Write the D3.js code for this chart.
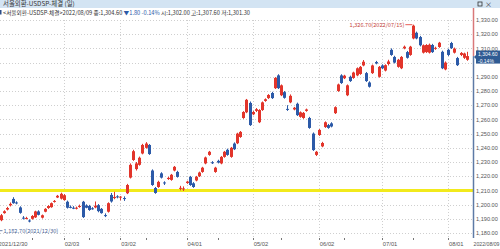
<!DOCTYPE html>
<html>
<head>
<meta charset="utf-8">
<script src="https://cdn.jsdelivr.net/npm/d3@7"></script>
<style>
body { margin: 0; background: #fff; }
svg { display: block; }
text { font-family: "Noto Sans CJK KR", "Liberation Sans", sans-serif; }
text.num { font-family: "Liberation Sans", Arial, sans-serif; }
</style>
</head>
<body>
<div id="chart"></div>
<script>
// chart size
var WD = 500, HT = 249
var plotRight = 473

// trading days
var dates = [
  "2021/12/30",
  "2022/01/03","2022/01/04","2022/01/05","2022/01/06","2022/01/07",
  "2022/01/10","2022/01/11","2022/01/12","2022/01/13","2022/01/14",
  "2022/01/17","2022/01/18","2022/01/19","2022/01/20","2022/01/21",
  "2022/01/24","2022/01/25","2022/01/26","2022/01/27","2022/01/28",
  "2022/02/03","2022/02/04",
  "2022/02/07","2022/02/08","2022/02/09","2022/02/10","2022/02/11",
  "2022/02/14","2022/02/15","2022/02/16","2022/02/17","2022/02/18",
  "2022/02/21","2022/02/22","2022/02/23","2022/02/24","2022/02/25",
  "2022/02/28",
  "2022/03/02","2022/03/03","2022/03/04",
  "2022/03/07","2022/03/08","2022/03/10","2022/03/11",
  "2022/03/14","2022/03/15","2022/03/16","2022/03/17","2022/03/18",
  "2022/03/21","2022/03/22","2022/03/23","2022/03/24","2022/03/25",
  "2022/03/28","2022/03/29","2022/03/30","2022/03/31",
  "2022/04/01",
  "2022/04/04","2022/04/05","2022/04/06","2022/04/07","2022/04/08",
  "2022/04/11","2022/04/12","2022/04/13","2022/04/14","2022/04/15",
  "2022/04/18","2022/04/19","2022/04/20","2022/04/21","2022/04/22",
  "2022/04/25","2022/04/26","2022/04/27","2022/04/28","2022/04/29",
  "2022/05/02","2022/05/03","2022/05/04","2022/05/06",
  "2022/05/09","2022/05/10","2022/05/11","2022/05/12","2022/05/13",
  "2022/05/16","2022/05/17","2022/05/18","2022/05/19","2022/05/20",
  "2022/05/23","2022/05/24","2022/05/25","2022/05/26","2022/05/27",
  "2022/05/30","2022/05/31",
  "2022/06/02","2022/06/03",
  "2022/06/07","2022/06/08","2022/06/09","2022/06/10",
  "2022/06/13","2022/06/14","2022/06/15","2022/06/16","2022/06/17",
  "2022/06/20","2022/06/21","2022/06/22","2022/06/23","2022/06/24",
  "2022/06/27","2022/06/28","2022/06/29","2022/06/30",
  "2022/07/01",
  "2022/07/04","2022/07/05","2022/07/06","2022/07/07","2022/07/08",
  "2022/07/11","2022/07/12","2022/07/13","2022/07/14","2022/07/15",
  "2022/07/18","2022/07/19","2022/07/20","2022/07/21","2022/07/22",
  "2022/07/25","2022/07/26","2022/07/27","2022/07/28","2022/07/29",
  "2022/08/01","2022/08/02","2022/08/03","2022/08/04","2022/08/05",
  "2022/08/08","2022/08/09"
]

var opens = [
  1185.0,1189.0,1194.0,1196.5,1199.5,1204.0,1201.5,1198.0,1190.8,1190.2,
  1188.8,1190.0,1191.0,1195.2,1190.8,1195.0,1197.6,1198.2,1202.0,1205.0,
  1204.2,1203.2,1202.0,1198.4,1197.8,1197.2,1198.6,1202.0,1199.4,1199.0,
  1197.4,1198.0,1199.6,1197.0,1192.6,1195.0,1206.8,1204.6,1205.8,1205.0,
  1204.6,1208.0,1219.0,1231.4,1225.0,1228.0,1236.0,1240.0,1242.0,1224.0,
  1211.7,1212.4,1222.0,1215.6,1218.0,1217.4,1224.0,1223.0,1211.2,1211.0,
  1215.2,1219.5,1215.0,1217.0,1220.0,1223.0,1229.0,1235.0,1229.8,1223.0,
  1230.8,1229.0,1233.6,1238.6,1233.6,1243.0,1243.2,1247.6,1261.0,1265.0,
  1271.6,1263.6,1266.0,1258.0,1266.6,1273.0,1275.0,1278.6,1282.0,1291.0,
  1277.0,1279.2,1267.4,1272.0,1267.0,1271.0,1261.8,1261.0,1266.0,1261.0,
  1250.0,1235.0,1249.0,1241.0,1254.6,1256.0,1257.2,1264.4,1280.0,1291.0,
  1289.0,1277.0,1290.0,1289.2,1291.0,1292.0,1298.0,1292.6,1286.0,1292.6,
  1300.4,1290.0,1298.0,1294.4,1299.0,1309.0,1304.0,1297.0,1296.0,1310.0,
  1307.4,1305.4,1317.0,1321.0,1318.0,1307.0,1307.4,1307.0,1312.4,1309.8,
  1311.0,1307.6,1295.2,1309.0,1313.8,1307.0,1303.2,1305.4,1303.4,1302.0
]
var highs = [
  1190.6,1193.4,1196.0,1198.4,1201.5,1205.2,1202.3,1198.8,1191.9,1191.4,
  1189.6,1192.6,1195.7,1196.0,1193.0,1197.5,1199.6,1201.5,1203.2,1206.8,
  1208.4,1207.4,1202.8,1199.4,1198.9,1198.6,1200.0,1202.6,1200.2,1199.8,
  1198.2,1202.2,1200.4,1197.6,1193.8,1201.6,1208.2,1209.0,1206.6,1206.0,
  1205.8,1214.6,1229.0,1238.6,1230.0,1233.8,1242.8,1244.0,1242.6,1224.8,
  1212.4,1216.8,1222.8,1216.4,1219.6,1221.6,1227.2,1223.8,1213.2,1212.8,
  1216.8,1220.2,1215.8,1220.2,1223.2,1226.6,1233.8,1237.8,1230.6,1226.6,
  1231.6,1234.2,1237.8,1239.4,1240.6,1243.8,1250.6,1251.8,1265.8,1274.4,
  1272.6,1266.0,1268.0,1267.2,1272.6,1274.8,1277.8,1279.4,1289.8,1291.8,
  1284.6,1280.0,1270.0,1277.6,1268.8,1271.8,1265.6,1265.2,1267.6,1261.8,
  1250.8,1237.8,1253.2,1244.2,1258.6,1256.8,1258.0,1269.2,1285.2,1291.8,
  1291.4,1284.6,1290.8,1293.6,1296.6,1297.6,1301.8,1293.4,1286.8,1298.6,
  1301.2,1297.6,1298.8,1298.8,1302.0,1310.0,1304.8,1302.6,1304.6,1312.0,
  1308.2,1311.8,1326.7,1321.8,1318.8,1312.8,1313.0,1313.4,1313.2,1311.2,
  1314.6,1308.4,1300.8,1309.8,1314.6,1310.6,1304.0,1307.4,1307.0,1307.6
]
var lows = [
  1182.7,1188.3,1193.6,1195.9,1198.7,1200.6,1200.2,1193.6,1189.5,1189.6,
  1187.5,1189.4,1190.6,1192.4,1190.2,1194.6,1197.0,1197.8,1201.4,1204.6,
  1203.6,1202.8,1197.2,1197.4,1196.8,1196.6,1197.8,1190.6,1197.4,1195.6,
  1196.4,1197.4,1194.6,1193.6,1191.2,1194.4,1201.4,1203.8,1204.4,1203.0,
  1202.6,1207.4,1218.4,1230.8,1224.0,1227.4,1235.4,1239.4,1235.0,1213.2,
  1207.6,1211.8,1218.4,1213.8,1217.4,1216.8,1223.4,1219.0,1210.0,1209.6,
  1214.6,1213.2,1211.8,1216.4,1219.4,1222.4,1228.4,1234.4,1228.6,1222.4,
  1229.0,1228.4,1233.0,1234.4,1233.0,1238.4,1242.6,1247.0,1260.4,1264.4,
  1255.4,1263.0,1265.2,1257.4,1266.0,1272.4,1274.4,1274.4,1281.4,1281.4,
  1276.4,1274.6,1266.0,1271.4,1266.4,1262.4,1261.2,1260.4,1265.4,1253.4,
  1237.8,1234.2,1248.4,1240.4,1254.0,1253.4,1254.4,1263.8,1279.4,1285.0,
  1288.4,1276.4,1286.4,1288.6,1290.4,1291.4,1297.4,1286.4,1282.4,1292.0,
  1298.8,1289.4,1295.4,1293.8,1298.0,1304.8,1299.4,1296.4,1295.4,1309.4,
  1302.8,1304.8,1316.4,1316.4,1311.4,1306.4,1306.8,1306.4,1306.8,1309.0,
  1310.4,1295.4,1294.6,1304.6,1309.6,1306.4,1297.6,1304.6,1302.6,1301.3
]
var closes = [
  1188.8,1192.5,1195.3,1197.6,1200.5,1201.0,1201.0,1194.2,1190.4,1190.6,
  1188.4,1192.0,1195.2,1192.8,1192.5,1197.0,1199.0,1201.0,1202.6,1206.2,
  1207.6,1206.6,1197.8,1198.0,1197.6,1197.8,1199.0,1191.2,1197.8,1196.2,
  1196.8,1199.2,1195.4,1194.0,1192.0,1201.0,1202.2,1205.4,1205.2,1205.6,
  1204.2,1213.8,1228.0,1237.6,1229.0,1233.0,1242.0,1243.0,1235.6,1213.8,
  1208.2,1216.0,1219.0,1215.0,1218.8,1221.0,1226.6,1219.5,1211.8,1211.4,
  1216.2,1213.8,1212.4,1219.6,1222.6,1226.0,1233.2,1237.2,1229.2,1226.0,
  1229.6,1233.6,1237.2,1235.0,1240.0,1239.0,1250.0,1251.2,1265.2,1273.8,
  1256.0,1265.2,1267.2,1266.6,1272.0,1274.2,1277.2,1275.0,1289.2,1282.0,
  1284.0,1275.2,1266.8,1276.6,1268.2,1263.0,1265.0,1264.6,1267.0,1254.0,
  1238.4,1237.2,1252.6,1243.4,1258.0,1254.0,1255.0,1268.6,1284.6,1285.6,
  1290.8,1284.0,1287.0,1293.0,1296.0,1297.0,1300.6,1287.0,1283.0,1298.0,
  1299.4,1297.0,1296.0,1298.2,1300.8,1305.4,1300.0,1302.0,1304.0,1311.2,
  1303.4,1311.2,1326.0,1317.0,1312.2,1312.2,1312.4,1312.6,1307.4,1310.4,
  1314.0,1296.0,1300.0,1305.4,1310.2,1309.8,1298.2,1306.8,1306.4,1304.6
]

var yTicks = [1180,1190,1200,1210,1220,1230,1240,1250,1260,1270,1280,1290,1300,1310,1320,1330]
var refLevel = 1210
var titleText = "서울외환-USDSP-체결 (일)"
var infoHead = "<서울외환-USDSP-체결>2022/08/09 종:1,304.60 "
var infoChange = "▼1.80  -0.14%"
var infoTail = " 시:1,302.00 고:1,307.60 저:1,301.30"
var lastPct = "-0.14%"

var RED = "#e2352b", BLUE = "#2c5aa8"

var svg = d3.select("#chart").append("svg")
    .attr("width", WD)
    .attr("height", HT)

var x = d3.scaleLinear().domain([0, dates.length - 1]).range([-2.5, 466.9])
var y = d3.scaleLinear().domain([1180, 1330]).range([233, 20])
var fmt = d3.format(",.2f")
var last = closes.length - 1
var ly = y(closes[last])
var tagTop = ly - 5.5, tagBottom = ly + 7.5

//month starts (skip the first january day, label starts at 2021/12/30)
var monthStarts = []
dates.forEach(function(d, i){
    if (i > 1 && d.slice(5,7) != dates[i-1].slice(5,7)) monthStarts.push(i)
})
var midMonth = []
dates.forEach(function(d, i){
    if (i > 0 && +d.slice(8) >= 15 && (+dates[i-1].slice(8) < 15 || d.slice(5,7) != dates[i-1].slice(5,7))) midMonth.push(i)
})

//grid lines
svg.append("g").selectAll("line")
    .data(yTicks)
    .enter().append("line")
      .attr("x1", 0).attr("x2", plotRight)
      .attr("y1", function(d){ return Math.round(y(d)) + 0.5 })
      .attr("y2", function(d){ return Math.round(y(d)) + 0.5 })
      .attr("stroke", "#cfcfcf")
      .attr("stroke-dasharray", "1,2")

svg.append("g").selectAll("line")
    .data(monthStarts)
    .enter().append("line")
      .attr("x1", function(i){ return Math.round(x(i)) + 0.5 })
      .attr("x2", function(i){ return Math.round(x(i)) + 0.5 })
      .attr("y1", 20).attr("y2", 237)
      .attr("stroke", "#cfcfcf")
      .attr("stroke-dasharray", "1,2")

//reference line
svg.append("line")
    .attr("x1", 0).attr("x2", plotRight)
    .attr("y1", y(refLevel)).attr("y2", y(refLevel))
    .attr("stroke", "#f2ea1c")
    .attr("stroke-width", 3)

//candles
var candles = svg.append("g").selectAll("g")
    .data(dates)
    .enter().append("g")

candles.append("line")
    .attr("x1", function(d, i){ return Math.round(x(i)) + 0.5 })
    .attr("x2", function(d, i){ return Math.round(x(i)) + 0.5 })
    .attr("y1", function(d, i){ return y(highs[i]) })
    .attr("y2", function(d, i){ return y(lows[i]) })
    .attr("stroke", function(d, i){ return closes[i] >= opens[i] ? RED : BLUE })
    .attr("stroke-width", 1)

candles.append("rect")
    .attr("x", function(d, i){ return Math.round(x(i)) - 1 })
    .attr("width", 3)
    .attr("y", function(d, i){ return y(Math.max(opens[i], closes[i])) })
    .attr("height", function(d, i){ return Math.max(1, Math.abs(y(opens[i]) - y(closes[i]))) })
    .attr("fill", function(d, i){ return closes[i] >= opens[i] ? RED : BLUE })

//high / low marks
var hi = d3.maxIndex(highs), lo = d3.minIndex(lows)
svg.append("line")
    .attr("x1", x(hi) - 8).attr("x2", x(hi) - 1)
    .attr("y1", y(highs[hi])).attr("y2", y(highs[hi]))
    .attr("stroke", RED).attr("stroke-width", 0.8)
svg.append("text")
    .attr("x", x(hi) - 9).attr("y", y(highs[hi]) + 2)
    .attr("text-anchor", "end")
    .attr("font-size", 5.6)
    .attr("fill", "#c4443a")
    .text(fmt(highs[hi]) + "(" + dates[hi] + ")")

svg.append("line")
    .attr("x1", x(lo) + 1).attr("x2", x(lo) + 5)
    .attr("y1", y(lows[lo]) + 1.5).attr("y2", y(lows[lo]) + 1.5)
    .attr("stroke", "#4a6698").attr("stroke-width", 0.8)
svg.append("text")
    .attr("x", x(lo) + 6).attr("y", y(lows[lo]) + 3.5)
    .attr("font-size", 5.6)
    .attr("fill", "#4a6698")
    .text(fmt(lows[lo]) + "(" + dates[lo] + ")")

//right axis
svg.append("line")
    .attr("x1", plotRight + 0.5).attr("x2", plotRight + 0.5)
    .attr("y1", 8).attr("y2", ly)
    .attr("stroke", "#d9787a").attr("stroke-width", 1.5)
svg.append("line")
    .attr("x1", plotRight + 0.5).attr("x2", plotRight + 0.5)
    .attr("y1", ly).attr("y2", 238)
    .attr("stroke", "#5d7aa6").attr("stroke-width", 1.5)

// labels hidden behind the price tag are left out
var shownTicks = yTicks.filter(function(d){ return y(d) < tagTop || y(d) > tagBottom })
var yAxis = svg.append("g")
    .attr("transform", "translate(" + (plotRight + 3) + ",0)")
    .call(d3.axisRight(y).tickValues(shownTicks).tickFormat(fmt).tickSize(0).tickPadding(0))
yAxis.select(".domain").remove()
yAxis.selectAll("text")
    .attr("class", "num")
    .attr("font-size", 5.6)
    .attr("font-family", null)
    .attr("fill", "#555")

//last price tag
svg.append("path")
    .attr("d", "M" + (plotRight + 1) + "," + (ly + 1) + "L" + (plotRight + 4) + "," + (ly - 2) + "L" + (plotRight + 4) + "," + (ly + 4) + "Z")
    .attr("fill", "#2f5b93")
svg.append("rect")
    .attr("x", plotRight + 3).attr("y", tagTop)
    .attr("width", WD - plotRight - 3).attr("height", tagBottom - tagTop)
    .attr("fill", "#2f5b93")
svg.append("text")
    .attr("class", "num")
    .attr("x", plotRight + 5).attr("y", ly + 0.4)
    .attr("font-size", 5).attr("fill", "#fff")
    .text(fmt(closes[last]))
svg.append("text")
    .attr("class", "num")
    .attr("x", plotRight + 5).attr("y", ly + 6.6)
    .attr("font-size", 5).attr("fill", "#fff")
    .text(lastPct)

//x axis labels
var xLabels = [0].concat(monthStarts)
svg.append("g").selectAll("line")
    .data(xLabels.concat(midMonth))
    .enter().append("line")
      .attr("x1", function(i){ return Math.round(x(i)) + 0.5 })
      .attr("x2", function(i){ return Math.round(x(i)) + 0.5 })
      .attr("y1", 238).attr("y2", 240)
      .attr("stroke", "#777")

svg.append("g").selectAll("text")
    .data(xLabels)
    .enter().append("text")
      .attr("class", "num")
      .attr("x", function(i){ return x(i) + 1 })
      .attr("y", 246)
      .attr("font-size", 5.8)
      .attr("fill", "#555")
      .text(function(i){ return i == 0 ? dates[i] : dates[i].slice(5) })

svg.append("text")
    .attr("class", "num")
    .attr("x", WD - 0.5).attr("y", 246)
    .attr("text-anchor", "end")
    .attr("font-size", 5.2).attr("fill", "#555")
    .text(dates[last])

//title bar
svg.append("rect")
    .attr("x", 0).attr("y", 0).attr("width", WD).attr("height", 8)
    .attr("fill", "#d3e4f3")
svg.append("text")
    .attr("x", 3).attr("y", 6.3)
    .attr("font-size", 6.4).attr("fill", "#333")
    .text(titleText)
svg.append("rect")
    .attr("x", 478).attr("y", 2).attr("width", 4).attr("height", 4)
    .attr("fill", "none").attr("stroke", "#333").attr("stroke-width", 0.8)
svg.append("text")
    .attr("x", 485).attr("y", 6.5)
    .attr("font-size", 7).attr("fill", "#333")
    .text("×")

//info line
svg.append("rect")
    .attr("x", 0).attr("y", 10).attr("width", 1.5).attr("height", 4.5)
    .attr("fill", "#2c4f8a")
var info = svg.append("text")
    .attr("x", 3).attr("y", 14.6)
    .attr("font-size", 5.6)
    .attr("fill", "#333")
    .attr("textLength", 247)
    .attr("lengthAdjust", "spacingAndGlyphs")
info.append("tspan").text(infoHead)
info.append("tspan").attr("fill", BLUE).text(infoChange)
info.append("tspan").text(infoTail)
</script>
</body>
</html>
